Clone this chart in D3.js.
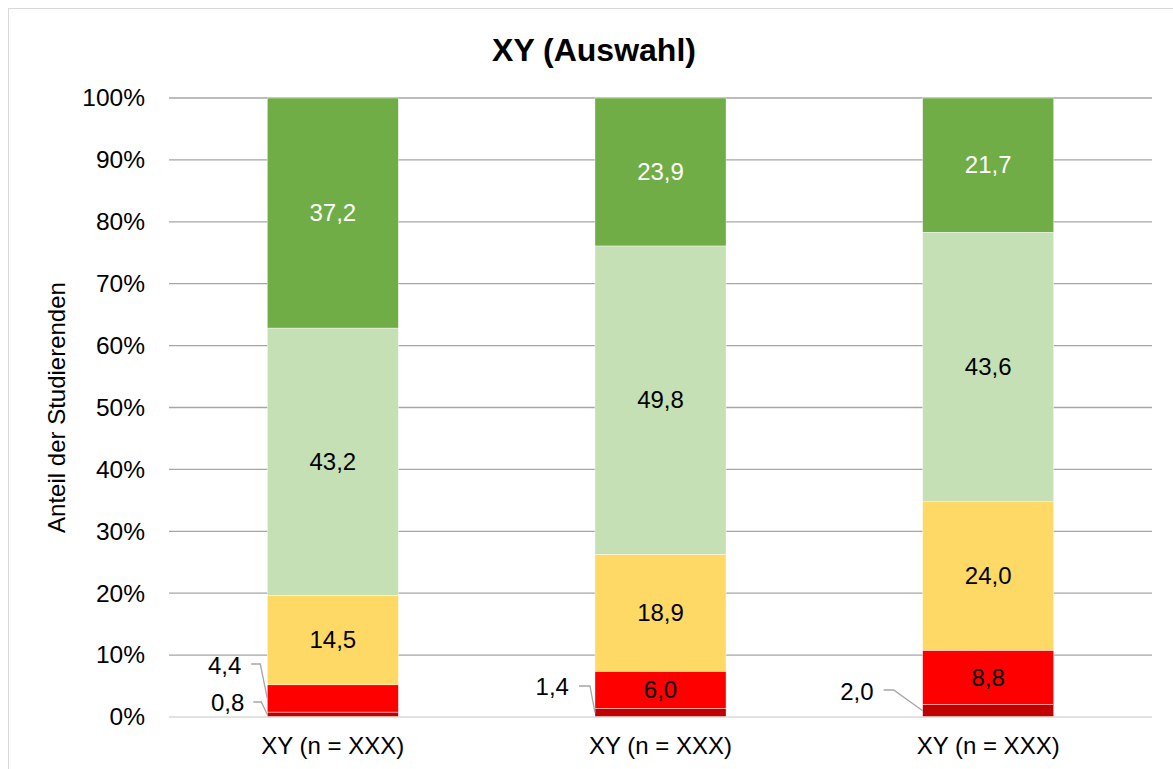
<!DOCTYPE html>
<html><head><meta charset="utf-8">
<script src="https://cdn.jsdelivr.net/npm/d3@7"></script>
<style>html,body{margin:0;padding:0;background:#fff;}svg{display:block;font-family:"Liberation Sans",Arial,sans-serif;}</style>
</head><body>
<svg id="c" width="1173" height="769"></svg>
<script>
const categories = ["XY (n = XXX)", "XY (n = XXX) ", "XY (n = XXX)  "];
const seriesNames = ["s1", "s2", "s3", "s4", "s5"];
const s1 = [0.8, 1.4, 2.0];
const s2 = [4.4, 6.0, 8.8];
const s3 = [14.5, 18.9, 24.0];
const s4 = [43.2, 49.8, 43.6];
const s5 = [37.2, 23.9, 21.7];
const colors = ["#C00000", "#FF0000", "#FFD966", "#C5E0B4", "#70AD47"];
const labelColors = ["#000", "#000", "#000", "#000", "#fff"];
const yTicks = [0, 0.1, 0.2, 0.3, 0.4, 0.5, 0.6, 0.7, 0.8, 0.9, 1.0];
const title = "XY (Auswahl)";
const yTitle = "Anteil der Studierenden";

const values = [s1, s2, s3, s4, s5];
const table = categories.map((c, i) => {
  const o = {cat: c};
  seriesNames.forEach((s, k) => o[s] = values[k][i]);
  return o;
});
const stacked = d3.stack().keys(seriesNames).offset(d3.stackOffsetExpand)(table);

const FS = 24;
const svg = d3.select("#c");
svg.append("rect").attr("x", 8.5).attr("y", 8.5).attr("width", 1170).attr("height", 770)
  .attr("fill", "#fff").attr("stroke", "#D9D9D9").attr("stroke-width", 1);

const L = 169, R = 1152, T = 98, B = 717;
const x = d3.scaleBand().domain(categories).range([L, R]).paddingInner(0.6).paddingOuter(0.3);
const y = d3.scaleLinear().domain([0, 1]).range([B, T]);

// gridlines
svg.append("g").selectAll("line").data(yTicks.filter(d => d > 0)).join("line")
  .attr("x1", L).attr("x2", R).attr("y1", d => y(d)).attr("y2", d => y(d))
  .attr("stroke", "#A6A6A6").attr("stroke-width", 1.3);

// y axis labels
const yAxis = d3.axisLeft(y).tickValues(yTicks).tickFormat(d => Math.round(d * 100) + "%").tickSize(0).tickPadding(24);
const ga = svg.append("g").attr("transform", `translate(${L},0)`).call(yAxis);
ga.select(".domain").remove();
ga.selectAll("text").attr("font-size", 24.5).attr("fill", "#000").attr("font-family", "Liberation Sans, Arial, sans-serif");

// bars
const g = svg.append("g");
stacked.forEach((layer, k) => {
  g.selectAll(null).data(layer).join("rect")
    .attr("x", d => x(d.data.cat))
    .attr("width", x.bandwidth())
    .attr("y", d => y(d[1]))
    .attr("height", d => y(d[0]) - y(d[1]))
    .attr("fill", colors[k])
    .attr("stroke", "#fff").attr("stroke-width", 0.4);
});

// baseline
svg.append("line").attr("x1", L).attr("x2", R).attr("y1", B).attr("y2", B)
  .attr("stroke", "#D9D9D9").attr("stroke-width", 1.3);

// x axis labels
const xAxis = d3.axisBottom(x).tickSize(0).tickPadding(20);
const gx = svg.append("g").attr("transform", `translate(0,${B})`).call(xAxis);
gx.select(".domain").remove();
gx.selectAll("text").attr("font-size", FS).attr("fill", "#000").attr("font-family", "Liberation Sans, Arial, sans-serif");

const fmt = v => v.toFixed(1).replace(".", ",");

// labels
stacked.forEach((layer, k) => {
  layer.forEach((d, i) => {
    const v = values[k][i];
    const cx = x(d.data.cat) + x.bandwidth() / 2;
    const midY = (y(d[0]) + y(d[1])) / 2;
    const h = y(d[0]) - y(d[1]);
    if (h >= 30) {
      svg.append("text").attr("x", cx).attr("y", midY).attr("dy", "0.35em")
        .attr("text-anchor", "middle").attr("font-size", FS).attr("fill", labelColors[k]).text(fmt(v));
    } else {
      // outside label with leader line
      const bx = x(d.data.cat);
      let lx, ly, ny, x1, x2;
      if (i === 0 && k === 1) { lx = bx - 26; ly = B - 51; ny = B - 53; x1 = bx - 16; x2 = bx - 7; }
      else if (i === 0) { lx = bx - 23; ly = B - 14; ny = B - 15; x1 = bx - 14; x2 = bx - 6; }
      else if (i === 1) { lx = bx - 26; ly = B - 30; ny = B - 31; x1 = bx - 16; x2 = bx - 5; }
      else { lx = bx - 49; ly = B - 25; ny = B - 27; x1 = bx - 39; x2 = bx - 29; }
      svg.append("path").attr("d", d3.line()([[x1, ny], [x2, ny], [bx, midY]])).attr("fill", "none")
        .attr("stroke", "#A6A6A6").attr("stroke-width", 1.3);
      svg.append("text").attr("x", lx).attr("y", ly).attr("dy", "0.35em")
        .attr("text-anchor", "end").attr("font-size", FS).attr("fill", "#000").text(fmt(v));
    }
  });
});

// title
svg.append("text").attr("x", 594).attr("y", 50).attr("dy", "0.35em").attr("text-anchor", "middle")
  .attr("font-size", 32).attr("font-weight", "bold").text(title);
// y title
svg.append("text").attr("transform", `translate(57,${(T + B) / 2}) rotate(-90)`).attr("dy", "0.35em")
  .attr("text-anchor", "middle").attr("font-size", FS).text(yTitle);
</script>
</body></html>
